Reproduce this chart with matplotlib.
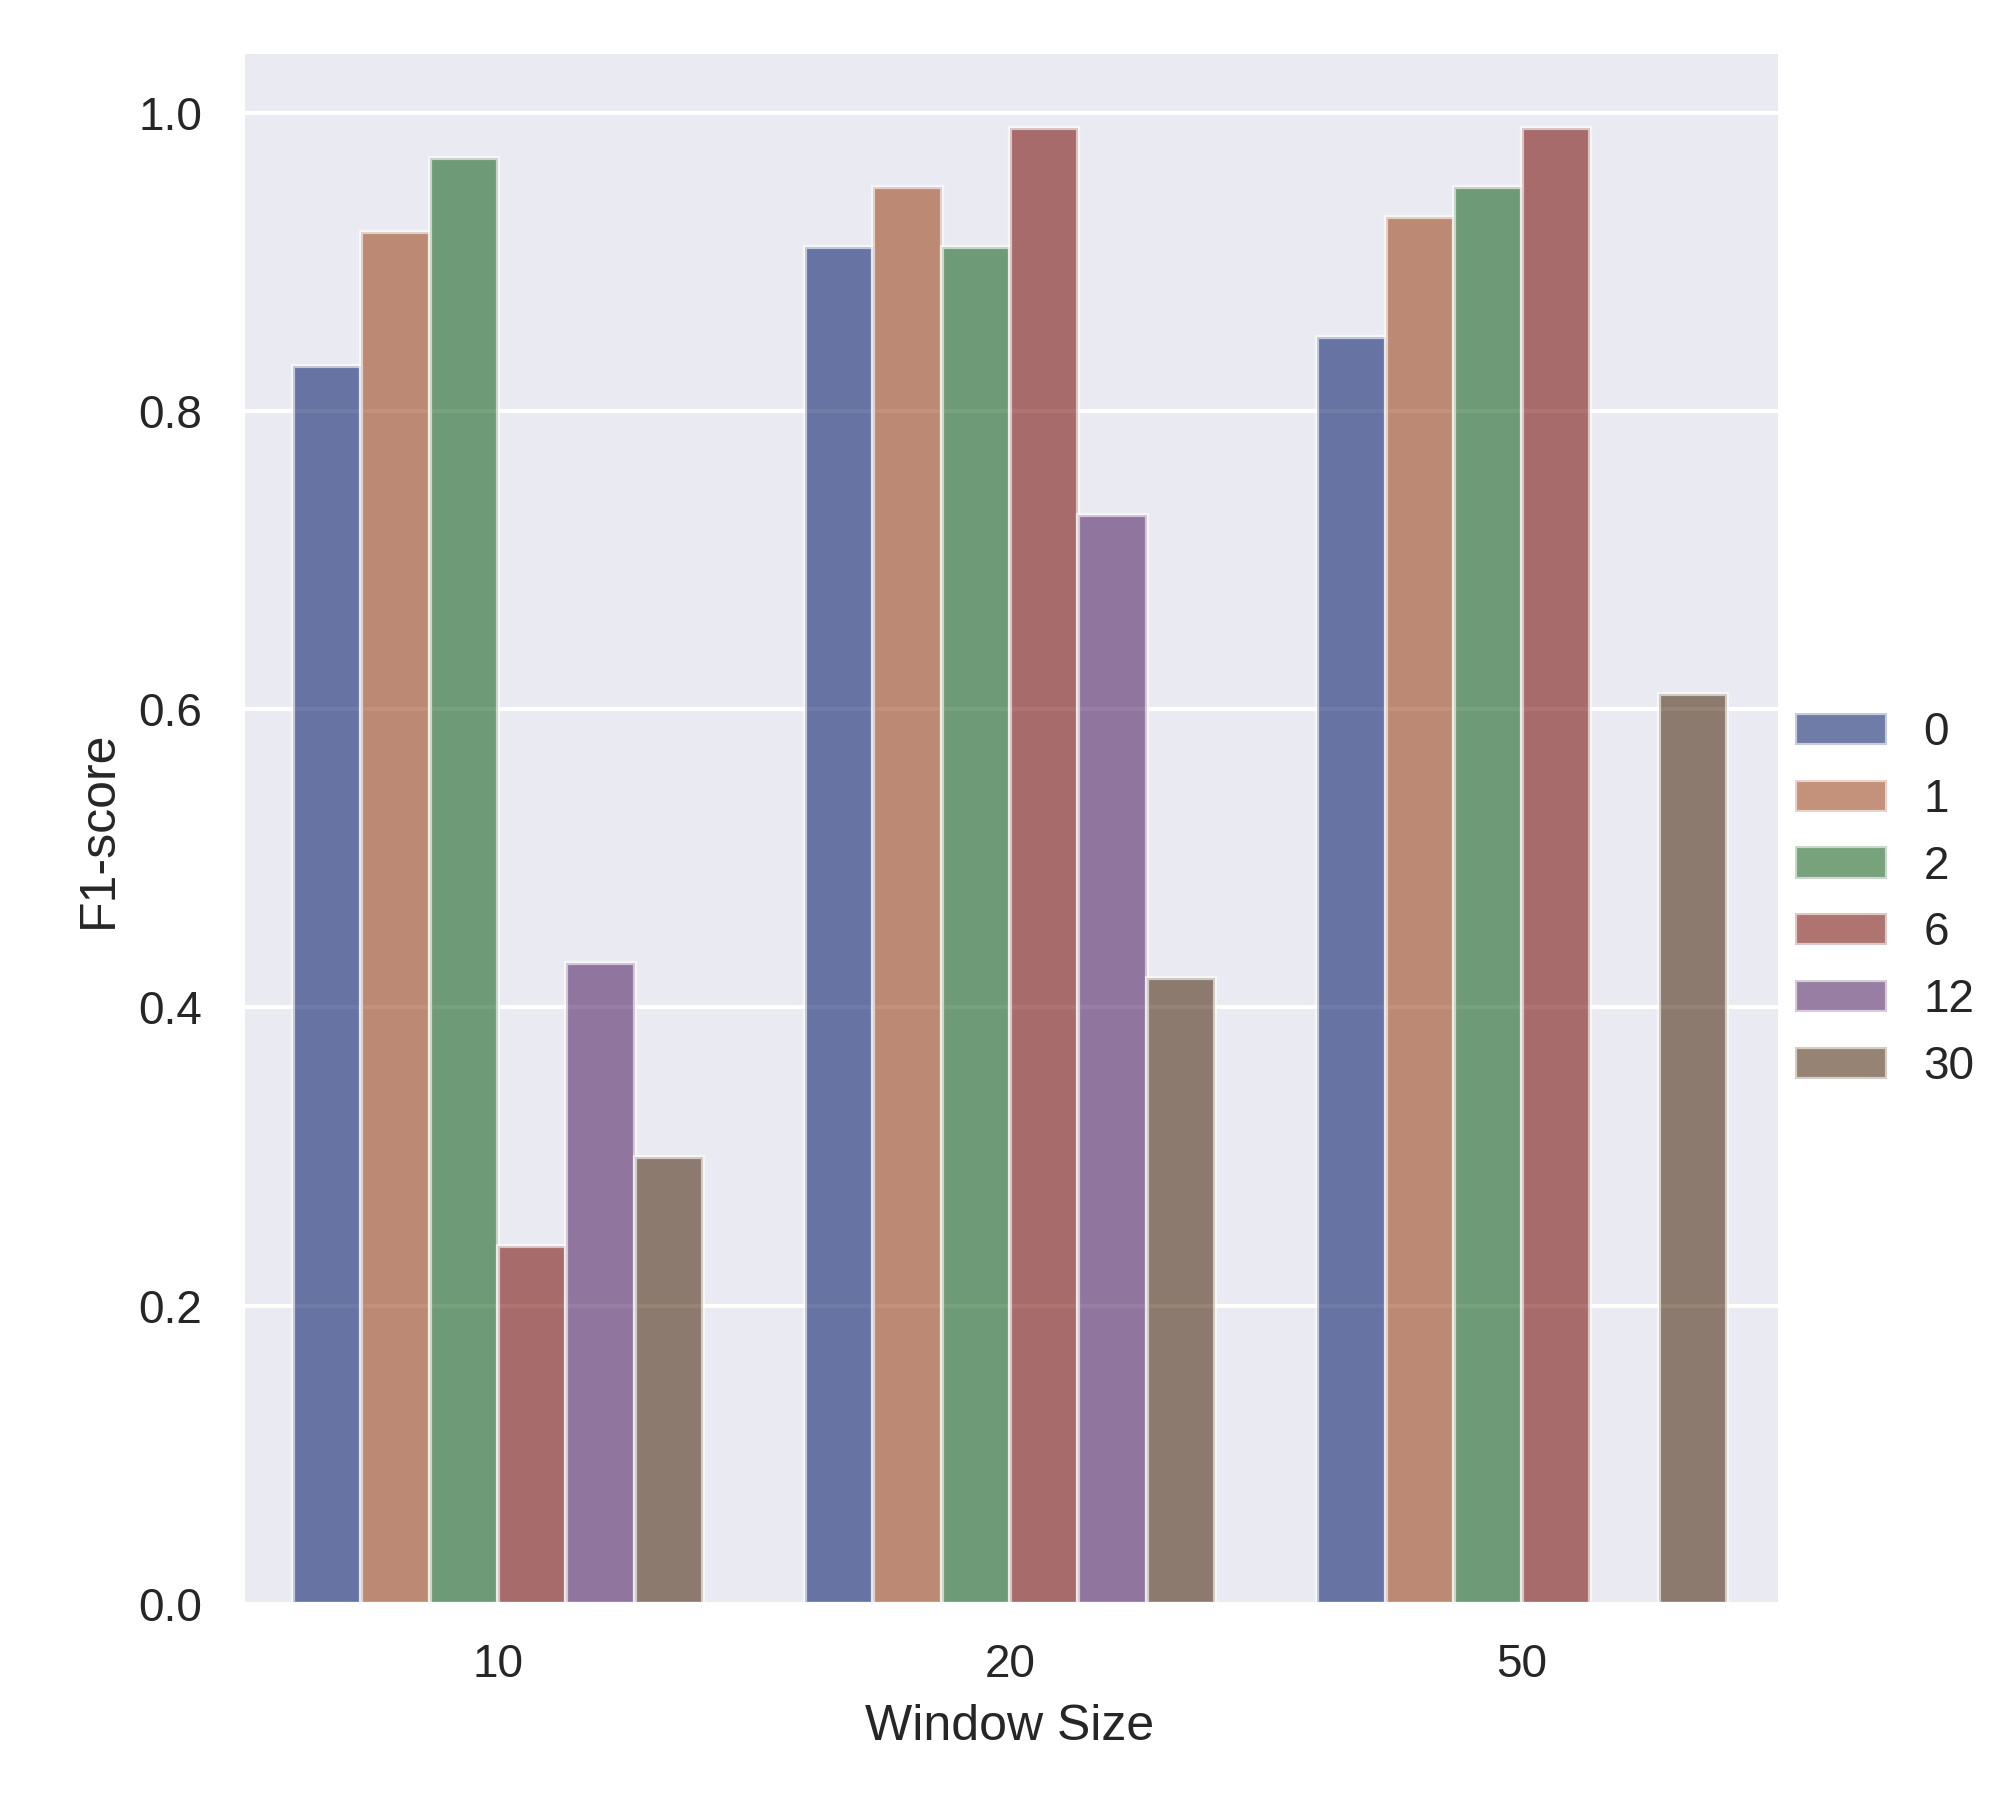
import matplotlib
matplotlib.use("Agg")
import matplotlib.pyplot as plt
import numpy as np
import pandas as pd
import seaborn as sns

window_sizes = [10, 20, 50]
horizons = [0, 1, 2, 6, 12, 30]
f1_w10 = [0.83, 0.92, 0.97, 0.24, 0.43, 0.30]
f1_w20 = [0.91, 0.95, 0.91, 0.99, 0.73, 0.42]
f1_w50 = [0.85, 0.93, 0.95, 0.99, np.nan, 0.61]

rows = []
for w, vals in zip(window_sizes, [f1_w10, f1_w20, f1_w50]):
    for h, v in zip(horizons, vals):
        rows.append({"Window Size": w, "horizon": h, "F1-score": v})
df = pd.DataFrame(rows)

sns.set_theme()
plt.rcParams['font.family'] = ['Liberation Sans', 'DejaVu Sans']

g = sns.catplot(data=df, kind="bar", x="Window Size", y="F1-score", hue="horizon",
                errorbar=None, palette="dark", alpha=.6, height=6)
g.legend.set_title("")
g.figure.set_size_inches(6.72, 6)
g.figure.subplots_adjust(left=0.12, right=0.882, top=0.97, bottom=0.109)
g.legend.set_bbox_to_anchor((1.0, 0.5))

plt.savefig("out.png", dpi=300)
